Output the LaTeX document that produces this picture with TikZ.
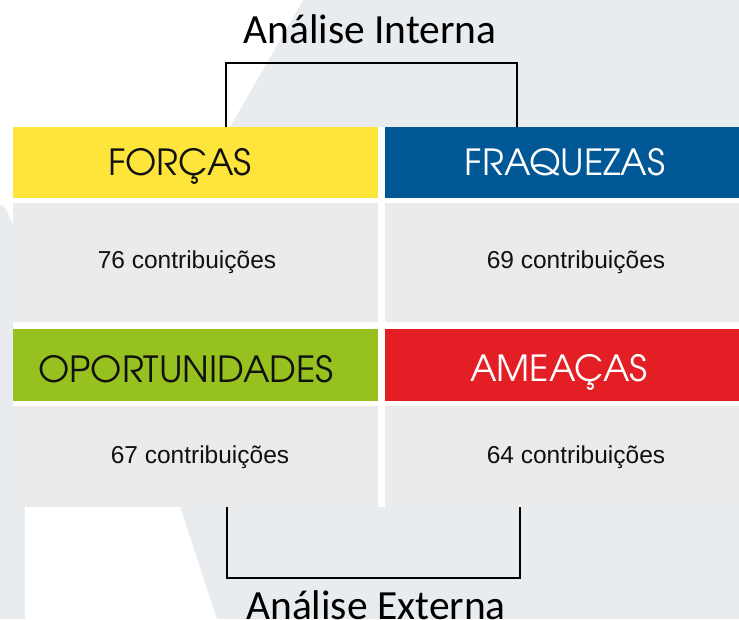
\documentclass[tikz,border=0pt]{standalone}
\usepackage{fontspec}
\setmainfont{Liberation Sans}
\newfontfamily\advfont{TeX Gyre Adventor}
\newfontfamily\calfont{Carlito}
\definecolor{bgc}{HTML}{E9ECEF}
\definecolor{yel}{HTML}{FEE53B}
\definecolor{blu}{HTML}{005896}
\definecolor{grn}{HTML}{97C11F}
\definecolor{rd}{HTML}{E31E25}
\definecolor{bod}{HTML}{EBEBEB}
\definecolor{ink}{HTML}{111111}
\begin{document}
\begin{tikzpicture}[x=1pt,y=-1pt,
  cell/.style={draw=none,inner sep=0pt,outer sep=0pt,anchor=north west},
  headtxt/.style={anchor=base,inner sep=0pt,font=\advfont\fontsize{36}{40}\selectfont},
  bodytxt/.style={anchor=base,inner sep=0pt,text=ink,font=\fontsize{24.5}{28}\selectfont},
  titletxt/.style={anchor=base,inner sep=0pt,text=black,font=\calfont\fontsize{41.5}{48}\selectfont},
  bracket/.style={draw=black,line width=2pt}]
\useasboundingbox (0,0) rectangle (739,619);
% background watermark
\fill[bgc] (0,0) rectangle (739,619);
\fill[white] (0,0) -- (303,0) -- (230,127) -- (150,380) -- (180,507) -- (217,619)
  -- (25,619) -- (25,507) -- (18,300) -- (14,222) to[out=-100,in=0] (0,205) -- cycle;
\fill[white] (13,127) rectangle (739,507);
% cells
\node[cell,fill=yel,minimum width=365pt,minimum height=71pt] (fo) at (13,127) {};
\node[cell,fill=blu,minimum width=354pt,minimum height=71pt] (fr) at (385,127) {};
\node[cell,fill=bod,minimum width=365pt,minimum height=119pt] (fob) at (13,203) {};
\node[cell,fill=bod,minimum width=354pt,minimum height=119pt] (frb) at (385,203) {};
\node[cell,fill=grn,minimum width=365pt,minimum height=72pt] (op) at (13,329) {};
\node[cell,fill=rd,minimum width=354pt,minimum height=72pt] (am) at (385,329) {};
\node[cell,fill=bod,minimum width=365pt,minimum height=101pt] (opb) at (13,406) {};
\node[cell,fill=bod,minimum width=354pt,minimum height=101pt] (amb) at (385,406) {};
% header texts
\node[headtxt,text=ink] (tfo) at (180,175) {FORÇAS};
\node[headtxt,text=white] (tfr) at (565,175) {FRAQUEZAS};
\node[headtxt,text=ink] (top) at (186,382) {OPORTUNIDADES};
\node[headtxt,text=white] (tam) at (559,381) {AMEAÇAS};
% body texts
\node[bodytxt] (cfo) at (187,268) {76 contribuições};
\node[bodytxt] (cfr) at (576,268) {69 contribuições};
\node[bodytxt] (cop) at (200,463) {67 contribuições};
\node[bodytxt] (cam) at (576,463) {64 contribuições};
% titles
\node[titletxt] (ai) at (370,43) {Análise Interna};
\node[titletxt] (ae) at (376,619) {Análise Externa};
% brackets
\coordinate (itl) at (226,62.6);
\coordinate (itr) at (517,62.6);
\coordinate (ebl) at (227,578);
\coordinate (ebr) at (520,578);
\draw[bracket] (fo.north -| itl) -- (itl) -- (itr) -- (fr.north -| itr);
\draw[bracket] (opb.south -| ebl) -- (ebl) -- (ebr) -- (amb.south -| ebr);
\end{tikzpicture}
\end{document}
